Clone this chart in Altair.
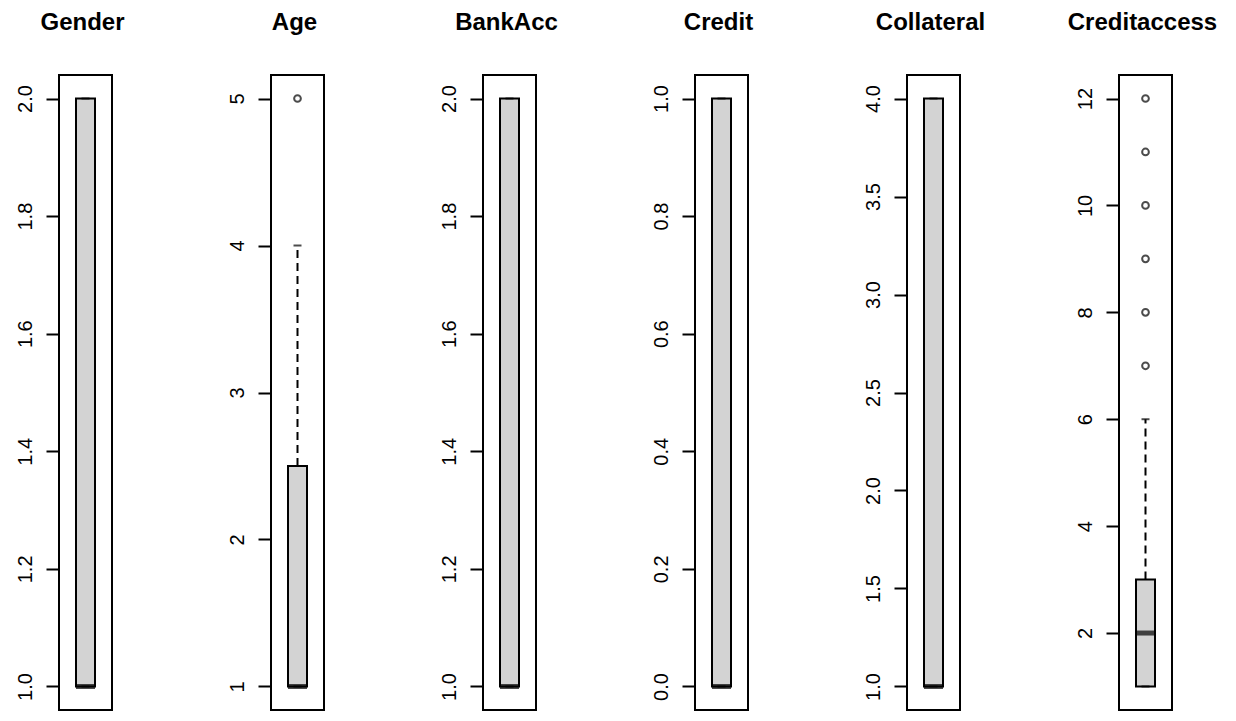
import altair as alt
import pandas as pd

names = ["Gender", "Age", "BankAcc", "Credit", "Collateral", "Creditaccess"]
lower_whisker = [1, 1, 1, 0, 1, 1]
q1 = [1, 1, 1, 0, 1, 1]
median = [1, 1, 1, 0, 1, 2]
q3 = [2, 2.5, 2, 1, 4, 3]
upper_whisker = [2, 4, 2, 1, 4, 6]
outliers = {
    "Gender": [],
    "Age": [5],
    "BankAcc": [],
    "Credit": [],
    "Collateral": [],
    "Creditaccess": [7, 8, 9, 10, 11, 12],
}
tick_values = {
    "Gender": [1.0, 1.2, 1.4, 1.6, 1.8, 2.0],
    "Age": [1, 2, 3, 4, 5],
    "BankAcc": [1.0, 1.2, 1.4, 1.6, 1.8, 2.0],
    "Credit": [0.0, 0.2, 0.4, 0.6, 0.8, 1.0],
    "Collateral": [1.0, 1.5, 2.0, 2.5, 3.0, 3.5, 4.0],
    "Creditaccess": [2, 4, 6, 8, 10, 12],
}
tick_format = {
    "Gender": ".1f", "Age": "d", "BankAcc": ".1f",
    "Credit": ".1f", "Collateral": ".1f", "Creditaccess": "d",
}

FONT = "Liberation Sans"
PANEL_W = 53
PANEL_H = 635
BOX_W = 19
LW = 2


def panel(i):
    name = names[i]
    stats = pd.DataFrame({
        "name": [name], "lw": [lower_whisker[i]], "q1": [q1[i]],
        "med": [median[i]], "q3": [q3[i]], "uw": [upper_whisker[i]],
    })
    outs = pd.DataFrame({"name": [name] * len(outliers[name]), "v": outliers[name]})
    all_vals = [lower_whisker[i], upper_whisker[i]] + outliers[name]
    lo, hi = min(all_vals), max(all_vals)
    pad = (hi - lo) * 0.04
    yscale = alt.Scale(domain=[lo - pad, hi + pad], nice=False, zero=False)
    yaxis = alt.Axis(
        values=tick_values[name], format=tick_format[name], labelAngle=270,
        labelAlign="center", labelBaseline="alphabetic", labelPadding=15,
        labelFont=FONT, labelFontSize=20, labelColor="black",
        tickColor="black", tickSize=13, tickWidth=LW, domain=False,
        grid=False, title=None,
    )
    x = alt.X("name:N", axis=None)
    base = alt.Chart(stats)
    box = base.mark_bar(size=BOX_W, fill="#d3d3d3", stroke="black", strokeWidth=LW).encode(
        x=x, y=alt.Y("q1:Q", scale=yscale, axis=yaxis), y2="q3:Q")
    wh_up = base.mark_rule(color="black", strokeWidth=LW, strokeDash=[8, 5]).encode(
        x=x, y=alt.Y("q3:Q"), y2="uw:Q")
    wh_lo = base.mark_rule(color="black", strokeWidth=LW, strokeDash=[8, 5]).encode(
        x=x, y=alt.Y("lw:Q"), y2="q1:Q")
    cap_up = base.mark_tick(size=8, thickness=LW, color="black").encode(x=x, y="uw:Q")
    cap_lo = base.mark_tick(size=8, thickness=LW, color="black").encode(x=x, y="lw:Q")
    med = base.mark_tick(size=BOX_W, thickness=5, color="black").encode(x=x, y="med:Q")
    layers = [wh_up, wh_lo, box, cap_up, cap_lo, med]
    if len(outs):
        pts = alt.Chart(outs).mark_point(shape="circle", filled=False, stroke="black",
                                         strokeWidth=LW, size=45).encode(x=x, y="v:Q")
        layers.append(pts)
    return alt.layer(*layers).properties(
        width=PANEL_W, height=PANEL_H,
        title=alt.TitleParams(text=name, font=FONT, fontSize=24, fontWeight="bold",
                              color="black", anchor="middle", offset=40, dx=-3),
    )


chart = alt.hconcat(*[panel(i) for i in range(len(names))], spacing=159,
                    bounds="flush").properties(
    padding={"left": 6, "top": 2, "right": 5, "bottom": 0}
).configure_view(stroke="black", strokeWidth=LW)

chart.save("out.html", embed_options={"renderer": "svg", "actions": False})
